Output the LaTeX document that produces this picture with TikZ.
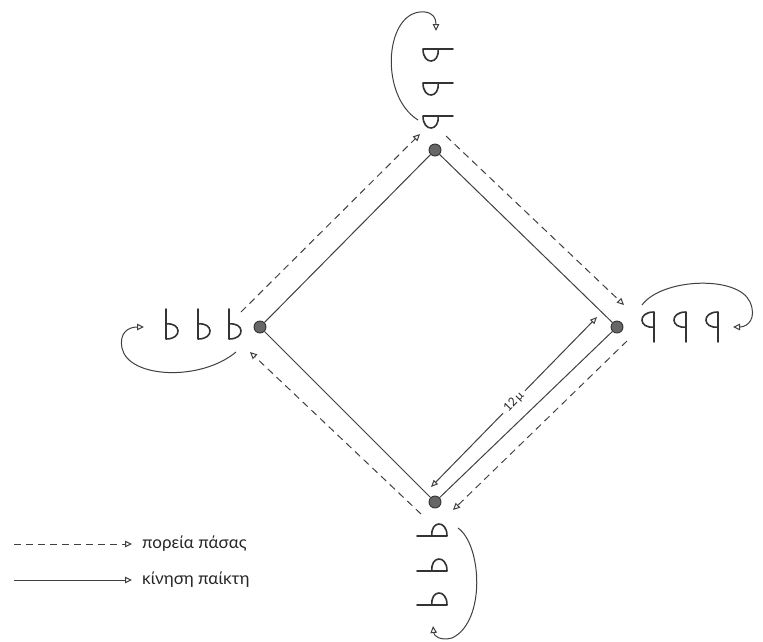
\documentclass[tikz,border=0pt]{standalone}
\usepackage{fontspec}
\setmainfont{Lato}
\usetikzlibrary{arrows.meta}
\begin{document}
\begin{tikzpicture}[x=1pt,y=-1pt,
  ink/.style={draw=black!75, line width=1pt},
  cone/.style={circle, fill=black!60, draw=black!80, line width=0.9pt, minimum size=12pt, inner sep=0pt},
  pass/.style={ink, dash pattern=on 7pt off 5pt},
  move/.style={ink},
  tip/.style={-{Triangle[open,length=7pt,width=6.5pt]}},
  dimtips/.style={{Triangle[open,length=7pt,width=6pt]}-{Triangle[open,length=7pt,width=6pt]}},
  legtext/.style={anchor=west, inner sep=0pt, font=\fontsize{17}{19}\selectfont, text=black!85},
  player/.pic={\draw[draw=black!80, line width=1.6pt, line cap=round, line join=round]
      (0,-15) -- (0,15) (0,0) .. controls (15,-2) and (17,15) .. (0,15);},
]
\useasboundingbox[fill=white] (0,0) rectangle (763,641);

% cones
\node[cone] (T) at (435,150) {};
\node[cone] (L) at (260,327) {};
\node[cone] (R) at (617,327) {};
\node[cone] (B) at (435,502) {};

% players
\pic[rotate=-90] (t1) at (438,49) {player};
\pic[rotate=-90] (t2) at (438,83) {player};
\pic[rotate=-90] (t3) at (438,116) {player};
\pic (l1) at (166,324) {player};
\pic (l2) at (198,324) {player};
\pic (l3) at (229,324) {player};
\pic[rotate=180] (r1) at (654,327) {player};
\pic[rotate=180] (r2) at (686,327) {player};
\pic[rotate=180] (r3) at (718,327) {player};
\pic[rotate=90] (b1) at (432,536) {player};
\pic[rotate=90] (b2) at (432,571) {player};
\pic[rotate=90] (b3) at (432,605) {player};

% player movement along the square
\draw[move] (L) -- (T);
\draw[move] (T) -- (R);
\draw[move] (R) -- (B);
\draw[move] (B) -- (L);

% passes
\coordinate (p1s) at (241,312); \coordinate (p1e) at (420,134);
\coordinate (p2s) at (446,136); \coordinate (p2e) at (624,305);
\coordinate (p3s) at (627,341); \coordinate (p3e) at (453,510);
\coordinate (p4s) at (421,514); \coordinate (p4e) at (250,352);
\draw[pass,tip] (p1s) -- (p1e);
\draw[pass,tip] (p2s) -- (p2e);
\draw[pass,tip] (p3s) -- (p3e);
\draw[pass,tip] (p4s) -- (p4e);

% distance
\coordinate (d1) at (597,317); \coordinate (d2) at (431,487);
\draw[ink,dimtips] (d2) -- node[sloped, fill=white, inner sep=4pt, font=\fontsize{12}{13}\selectfont, text=black!85] (dim) {12\,μ} (d1);

% return to the back of the queue
\coordinate (c1s) at (418,120); \coordinate (c1e) at (436,31);
\draw[move,tip] (c1s) .. controls (378,95) and (385,8) .. (425,12) .. controls (433,13) and (436,18) .. (c1e);
\coordinate (c2s) at (236,352); \coordinate (c2e) at (144,327);
\draw[move,tip] (c2s) .. controls (200,382) and (128,378) .. (122,348) .. controls (119,333) and (128,327) .. (c2e);
\coordinate (c3s) at (642,305); \coordinate (c3e) at (733,327);
\draw[move,tip] (c3s) .. controls (662,278) and (738,275) .. (750,302) .. controls (757,318) and (748,327) .. (c3e);
\coordinate (c4s) at (458,528); \coordinate (c4e) at (433,626);
\draw[move,tip] (c4s) .. controls (482,545) and (486,622) .. (452,638) .. controls (440,641) and (434,636) .. (c4e);

% legend
\coordinate (ld1) at (14,544); \coordinate (le1) at (132,544);
\node[legtext] (lt1) at (142,544) {πορεία πάσας};
\draw[pass,tip] (ld1) -- (le1);
\coordinate (ld2) at (14,580); \coordinate (le2) at (132,580);
\node[legtext] (lt2) at (142,580) {κίνηση παίκτη};
\draw[move,tip] (ld2) -- (le2);
\end{tikzpicture}
\end{document}
